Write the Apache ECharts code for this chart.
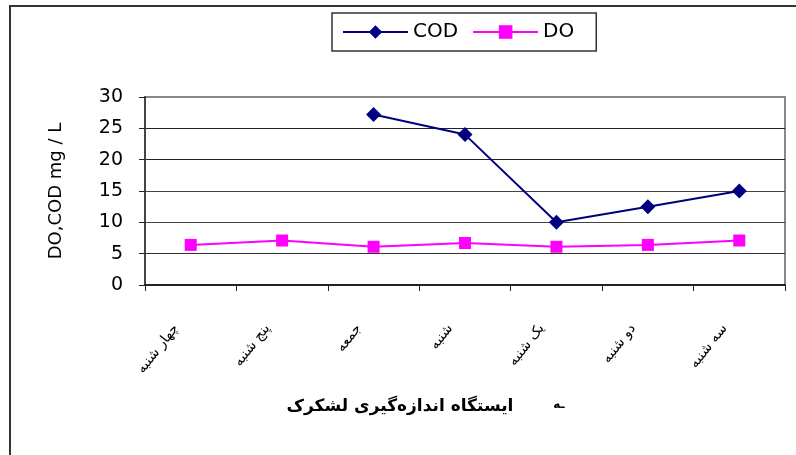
<!DOCTYPE html>
<html>
<head>
<meta charset="utf-8">
<script src="https://cdn.jsdelivr.net/npm/echarts@6/dist/echarts.min.js"></script>
<style>
  html, body { margin: 0; padding: 0; background: #fff; }
  #chart { width: 796px; height: 455px; }
</style>
</head>
<body>
<div id="chart"></div>
<script>
// days of the week (station sampling days)
const categories = ['چهار شنبه', 'پنج شنبه', 'جمعه', 'شنبه', 'یک شنبه', 'دو شنبه', 'سه شنبه']
const codValues = [null, null, 27.2, 24, 10, 12.5, 15]
const doValues = [6.4, 7.1, 6.1, 6.7, 6.1, 6.4, 7.1]
const yTicks = [0, 5, 10, 15, 20, 25, 30]

const chart = echarts.init(document.getElementById('chart'))
const font = 'DejaVu Sans'

chart.setOption({
  animation: false,
  backgroundColor: '#fff',
  textStyle: { fontFamily: font, color: '#000' },
  graphic: [
    {
      type: 'rect',
      shape: { x: 10, y: 6, width: 900, height: 600 },
      style: { fill: 'none', stroke: '#333', lineWidth: 2 }
    },
    {
      type: 'text',
      x: 400,
      y: 407,
      style: {
        text: 'ایستگاه اندازه‌گیری لشکرک',
        font: 'bold 17px "DejaVu Sans"',
        fill: '#000',
        align: 'center',
        verticalAlign: 'middle'
      }
    },
    {
      type: 'text',
      x: 559,
      y: 405,
      style: {
        text: 'ـه',
        font: 'bold 12px "DejaVu Sans"',
        fill: '#000',
        align: 'center',
        verticalAlign: 'middle'
      }
    }
  ],
  legend: {
    left: 332,
    top: 13,
    padding: [9, 22, 9, 10],
    itemGap: 14,
    itemWidth: 65,
    itemHeight: 17,
    borderColor: '#333',
    borderWidth: 1.5,
    textStyle: { fontFamily: font, fontSize: 20, color: '#000' },
    data: ['COD', 'DO']
  },
  grid: {
    left: 145,
    right: 11,
    top: 97,
    bottom: 170,
    show: true,
    borderColor: '#888',
    borderWidth: 2
  },
  xAxis: {
    type: 'category',
    data: categories,
    boundaryGap: true,
    axisLine: { lineStyle: { color: '#222', width: 2 } },
    axisTick: { show: true, interval: 0, length: 6, lineStyle: { color: '#222' } },
    axisLabel: {
      interval: 0,
      rotate: 52,
      margin: 22,
      padding: [0, 24, 0, 0],
      fontSize: 14,
      fontFamily: font,
      color: '#000'
    }
  },
  yAxis: {
    type: 'value',
    min: yTicks[0],
    max: yTicks[yTicks.length - 1],
    interval: 5,
    name: 'DO,COD mg / L',
    nameLocation: 'middle',
    nameRotate: 90,
    nameGap: 80,
    nameTextStyle: { fontFamily: font, fontSize: 18, color: '#000' },
    axisLine: { show: true, lineStyle: { color: '#444', width: 2 } },
    axisTick: { show: true, length: 6, lineStyle: { color: '#222' } },
    axisLabel: { margin: 22, fontSize: 19, fontFamily: font, color: '#000' },
    splitLine: {
      show: true,
      lineStyle: { color: ['#222', '#333', '#444', '#444', '#222', '#222', '#888'], width: 1 }
    }
  },
  series: [
    {
      name: 'COD',
      type: 'line',
      data: codValues,
      symbol: 'diamond',
      symbolSize: 15,
      lineStyle: { color: '#000080', width: 2 },
      itemStyle: { color: '#000080' }
    },
    {
      name: 'DO',
      type: 'line',
      data: doValues,
      symbol: 'rect',
      symbolSize: 12,
      lineStyle: { color: '#FF00FF', width: 2 },
      itemStyle: { color: '#FF00FF' }
    }
  ]
})
</script>
</body>
</html>
